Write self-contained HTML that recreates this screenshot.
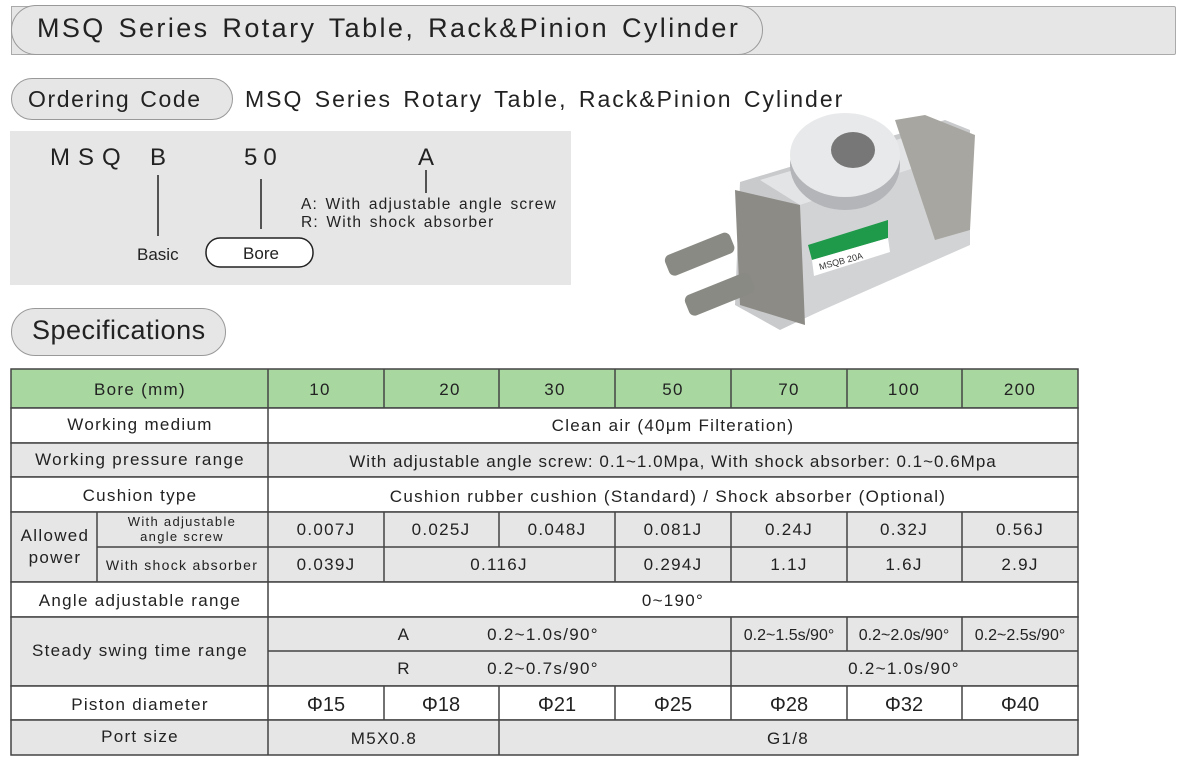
<!DOCTYPE html>
<html><head><meta charset="utf-8"><style>
body{margin:0;width:1193px;height:775px;background:#fff;overflow:hidden;position:relative;font-family:"Liberation Sans",sans-serif;color:#222}
.abs{position:absolute}
</style></head><body>
<div class="abs" style="left:11px;top:6px;width:1163px;height:47px;background:#e6e6e6;border:1px solid #aaa;border-radius:0 2px 2px 0"></div>
<div class="abs" style="left:11px;top:5px;width:750px;height:48px;background:#e6e6e6;border:1px solid #999;border-radius:25px;"></div>
<div class="abs" style="left:37px;top:13px;font-size:27px;letter-spacing:2.4px;word-spacing:3px;white-space:nowrap">MSQ Series Rotary Table, Rack&amp;Pinion Cylinder</div>
<div class="abs" style="left:11px;top:78px;width:220px;height:40px;background:#e6e6e6;border:1px solid #999;border-radius:21px"></div>
<div class="abs" style="left:28px;top:86px;font-size:23px;letter-spacing:1.6px;word-spacing:2px;white-space:nowrap">Ordering Code</div>
<div class="abs" style="left:245px;top:86px;font-size:23px;letter-spacing:2px;word-spacing:3px;white-space:nowrap">MSQ Series Rotary Table, Rack&amp;Pinion Cylinder</div>
<div class="abs" style="left:10px;top:131px;width:561px;height:154px;background:#e6e6e6"></div>
<svg class="abs" style="left:0;top:0" width="600" height="300">
<g font-family="Liberation Sans" fill="#222">
<text x="50" y="165" font-size="24" letter-spacing="8">MSQ</text>
<text x="150" y="165" font-size="24">B</text>
<text x="244" y="165" font-size="24" letter-spacing="6">50</text>
<text x="418" y="165" font-size="24">A</text>
<line x1="158" y1="175" x2="158" y2="236" stroke="#222" stroke-width="1.5"/>
<line x1="261" y1="179" x2="261" y2="229" stroke="#222" stroke-width="1.5"/>
<line x1="426" y1="170" x2="426" y2="193" stroke="#222" stroke-width="1.5"/>
<text x="301" y="209" font-size="15.5" letter-spacing="1.2" word-spacing="2">A: With adjustable angle screw</text>
<text x="301" y="227" font-size="15.5" letter-spacing="1.2" word-spacing="2">R: With shock absorber</text>
<text x="137" y="260" font-size="17">Basic</text>
<rect x="206" y="238" width="107" height="29" rx="14" fill="#fff" stroke="#222" stroke-width="1.5"/>
<text x="261" y="259" font-size="17" text-anchor="middle">Bore</text>
</g></svg>
<svg class="abs" style="left:640px;top:110px" width="380" height="230">
<polygon points="100,72 305,10 330,20 330,130 140,220 95,195" fill="#c9cacc"/>
<polygon points="120,70 290,20 330,40 160,95" fill="#e3e4e6"/>
<polygon points="160,95 330,40 330,135 160,210" fill="#d2d3d5"/>
<polygon points="95,80 160,95 165,215 100,195" fill="#8d8b86"/>
<polygon points="255,10 285,5 335,25 330,120 295,130" fill="#a8a6a0"/>
<ellipse cx="205" cy="55" rx="55" ry="45" fill="#b3b5b8"/>
<ellipse cx="205" cy="45" rx="55" ry="42" fill="#e8e9ea"/>
<ellipse cx="213" cy="40" rx="22" ry="18" fill="#777"/>
<polygon points="168,135 248,110 248,128 172,150" fill="#1e9a4a"/>
<polygon points="172,150 248,128 250,142 174,166" fill="#fff"/>
<text x="180" y="160" font-size="9" font-family="Liberation Sans" fill="#333" transform="rotate(-15 180 160)">MSQB 20A</text>
<rect x="25" y="135" width="70" height="22" rx="6" fill="#8a8a85" transform="rotate(-22 55 146)"/>
<rect x="45" y="175" width="70" height="22" rx="6" fill="#8a8a85" transform="rotate(-22 75 186)"/>
</svg>
<div class="abs" style="left:11px;top:308px;width:213px;height:46px;background:#e6e6e6;border:1px solid #999;border-radius:24px"></div>
<div class="abs" style="left:32px;top:315px;font-size:27px;letter-spacing:0.5px">Specifications</div>
<svg class="abs" style="left:0;top:0" width="1193" height="775">
<g stroke="#444" stroke-width="1.5">
<rect x="11" y="369" width="1067" height="39" fill="#a8d8a0"/>
<rect x="11" y="408" width="1067" height="35" fill="#fff"/>
<rect x="11" y="443" width="1067" height="34" fill="#e6e6e6"/>
<rect x="11" y="477" width="1067" height="35" fill="#fff"/>
<rect x="11" y="512" width="1067" height="70" fill="#e6e6e6"/>
<rect x="11" y="582" width="1067" height="35" fill="#fff"/>
<rect x="11" y="617" width="1067" height="69" fill="#e6e6e6"/>
<rect x="11" y="686" width="1067" height="34" fill="#fff"/>
<rect x="11" y="720" width="1067" height="35" fill="#e6e6e6"/>
<line x1="268" y1="369" x2="268" y2="755"/>
<path d="M384 369V408M499 369V408M615 369V408M731 369V408M847 369V408M962 369V408" fill="none"/>
<path d="M97 512V582M97 547H1078M384 512V547M499 512V547M615 512V582M731 512V582M847 512V582M962 512V582M384 547V582" fill="none"/>
<path d="M268 651H1078M731 617V686M847 617V651M962 617V651" fill="none"/>
<path d="M384 686V720M499 686V720M615 686V720M731 686V720M847 686V720M962 686V720M499 720V755" fill="none"/>
</g>
<g font-family="Liberation Sans" font-size="17" fill="#222" text-anchor="middle" letter-spacing="1.3">
<text x="140" y="395">Bore (mm)</text>
<text x="320" y="395">10</text><text x="450" y="395">20</text><text x="555" y="395">30</text><text x="673" y="395">50</text><text x="789" y="395">70</text><text x="904" y="395">100</text><text x="1020" y="395">200</text>
<text x="140" y="430">Working medium</text>
<text x="673" y="431">Clean air (40μm Filteration)</text>
<text x="140" y="465">Working pressure range</text>
<text x="673" y="467" letter-spacing="1">With adjustable angle screw: 0.1~1.0Mpa, With shock absorber: 0.1~0.6Mpa</text>
<text x="140" y="501">Cushion type</text>
<text x="668" y="502">Cushion rubber cushion (Standard)  / Shock absorber (Optional)</text>
<text x="55" y="541">Allowed</text><text x="55" y="563">power</text>
<text x="182" y="526" font-size="13">With adjustable</text>
<text x="182" y="541" font-size="13">angle screw</text>
<text x="182" y="570" font-size="14">With shock absorber</text>
<text x="326" y="535">0.007J</text><text x="441" y="535">0.025J</text><text x="557" y="535">0.048J</text><text x="673" y="535">0.081J</text><text x="789" y="535">0.24J</text><text x="904" y="535">0.32J</text><text x="1020" y="535">0.56J</text>
<text x="326" y="570">0.039J</text><text x="499" y="570">0.116J</text><text x="673" y="570">0.294J</text><text x="789" y="570">1.1J</text><text x="904" y="570">1.6J</text><text x="1020" y="570">2.9J</text>
<text x="140" y="606">Angle adjustable range</text>
<text x="673" y="606">0~190°</text>
<text x="140" y="656">Steady swing time range</text>
<text x="404" y="640">A</text><text x="543" y="640">0.2~1.0s/90°</text>
<text x="404" y="674">R</text><text x="543" y="674">0.2~0.7s/90°</text>
<g letter-spacing="0" font-size="16"><text x="789" y="640">0.2~1.5s/90°</text><text x="904" y="640">0.2~2.0s/90°</text><text x="1020" y="640">0.2~2.5s/90°</text></g>
<text x="904" y="674">0.2~1.0s/90°</text>
<text x="140" y="710">Piston diameter</text>
<g font-size="20" letter-spacing="0"><text x="326" y="711">Φ15</text><text x="441" y="711">Φ18</text><text x="557" y="711">Φ21</text><text x="673" y="711">Φ25</text><text x="789" y="711">Φ28</text><text x="904" y="711">Φ32</text><text x="1020" y="711">Φ40</text></g>
<text x="140" y="742">Port size</text>
<text x="384" y="744">M5X0.8</text>
<text x="788" y="744">G1/8</text>
</g>
</svg>
</body></html>
